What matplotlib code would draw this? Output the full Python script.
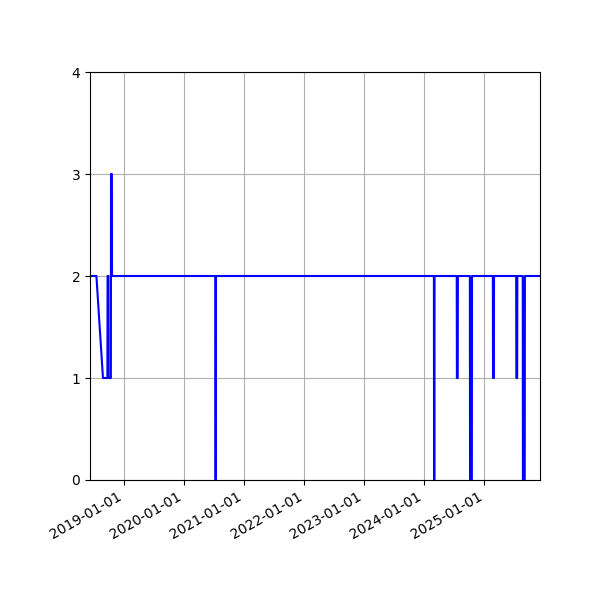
import matplotlib
matplotlib.use("Agg")
import matplotlib.pyplot as plt
import matplotlib.dates as mdates
import pandas as pd

dates = [
    "2018-06-06", "2018-07-15", "2018-08-24", "2018-09-20", "2018-09-21",
    "2018-09-26", "2018-09-27", "2018-10-11", "2018-10-12", "2018-10-17", "2018-10-18",
    "2020-07-08", "2020-07-09", "2020-07-11", "2020-07-12",
    "2024-02-29", "2024-03-01", "2024-03-03", "2024-03-04",
    "2024-07-17", "2024-07-18", "2024-07-23", "2024-07-24",
    "2024-10-05", "2024-10-06", "2024-10-17", "2024-10-18",
    "2025-02-22", "2025-02-23", "2025-02-28", "2025-03-01",
    "2025-07-14", "2025-07-15", "2025-07-20", "2025-07-21",
    "2025-08-23", "2025-08-24", "2025-09-04", "2025-09-05",
    "2025-12-06",
]
values = [
    2, 2, 1, 1, 2,
    2, 1, 1, 3, 3, 2,
    2, 0, 0, 2,
    2, 0, 0, 2,
    2, 1, 1, 2,
    2, 0, 0, 2,
    2, 1, 1, 2,
    2, 1, 1, 2,
    2, 0, 0, 2,
    2,
]
y_ticks = [0, 1, 2, 3, 4]

x = pd.to_datetime(dates)

fig, ax = plt.subplots(figsize=(6, 6), dpi=100)
ax.plot(x, values, color="blue", linewidth=1.5)
ax.set_xlim(x.min(), x.max())
ax.set_ylim(0, 4)
ax.set_yticks(y_ticks)
ax.xaxis.set_major_locator(mdates.YearLocator())
ax.xaxis.set_major_formatter(mdates.DateFormatter("%Y-%m-%d"))
ax.grid(True)
fig.autofmt_xdate()
fig.subplots_adjust(left=0.15, right=0.9, top=0.88, bottom=0.2)
fig.savefig("out.png", dpi=100)
